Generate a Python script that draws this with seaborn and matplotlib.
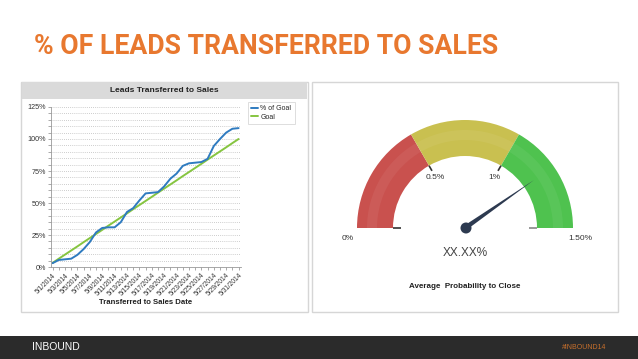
import numpy as np
import pandas as pd
import matplotlib
matplotlib.use("Agg")
import matplotlib.pyplot as plt
from matplotlib.patches import Rectangle, Wedge, Circle, Polygon
from matplotlib.ticker import MultipleLocator, FixedLocator
from matplotlib.lines import Line2D
import seaborn as sns

# ---------------- data ----------------
dates = [f"5/{d}/2014" for d in range(1, 32)]
pct_of_goal = [3, 5.5, 6, 6.5, 9.5, 14, 19.5, 27, 30.5, 31, 31, 35, 43, 46, 52,
               57.5, 58, 58.5, 63, 69, 73, 79, 81, 81.5, 82, 84.5, 94.5, 100,
               105, 108, 108.5]
goal = [3.2, 6.5, 9.7, 12.9, 16.1, 19.4, 22.6, 25.8, 29.0, 32.3, 35.5, 38.7,
        41.9, 45.2, 48.4, 51.6, 54.8, 58.1, 61.3, 64.5, 67.7, 71.0, 74.2, 77.4,
        80.6, 83.9, 87.1, 90.3, 93.5, 96.8, 100]
y_ticks = [0, 25, 50, 75, 100, 125]
y_tick_labels = ["0%", "25%", "50%", "75%", "100%", "125%"]
series_names = ["% of Goal", "Goal"]

gauge_bounds = [0, 0.5, 1.0, 1.5]
gauge_colors = ["#c9514e", "#c9c050", "#4fc24f"]
gauge_labels = ["0%", "0.5%", "1%", "1.50%"]
gauge_value = 1.21
gauge_text = "XX.XX%"
gauge_title = "Average  Probability to Close"

W, H = 638, 359
sns.set_theme(style="white")
plt.rcParams['font.family'] = ['Liberation Sans', 'DejaVu Sans']

fig = plt.figure(figsize=(W / 100, H / 100), dpi=100)
fig.patch.set_facecolor("white")

bg = fig.add_axes([0, 0, 1, 1], zorder=0)
bg.set_xlim(0, W)
bg.set_ylim(0, H)
bg.axis("off")

def Y(y):
    return H - y

# title
bg.text(34, Y(47), "% OF LEADS TRANSFERRED TO SALES", color="#e8782f",
        fontsize=19.2, fontweight="bold", va="center", ha="left",
        family=['Roboto', 'DejaVu Sans'])

# bottom bar
bg.add_patch(Rectangle((0, 0), W, Y(336), color="#2b2b2b", lw=0))
bg.text(32, Y(347.5), "INBOUND", color="white", fontsize=7.5, va="center", ha="left")
bg.text(606, Y(347.5), "#INBOUND14", color="#c8702c", fontsize=5, va="center", ha="right")

# panels
bg.add_patch(Rectangle((21, Y(312)), 287, 230, fill=False, ec="#d6d6d6", lw=1.0))
bg.add_patch(Rectangle((22, Y(99)), 285, 17, color="#dadada", lw=0))
bg.text(164, Y(90.5), "Leads Transferred to Sales", fontsize=6, fontweight="bold",
        color="#222222", ha="center", va="center")
bg.add_patch(Rectangle((312, Y(312)), 306, 230, fill=False, ec="#d6d6d6", lw=1.0))

# ---------------- line chart ----------------
df = pd.DataFrame({
    "day": np.arange(len(dates)).tolist() * 2,
    "value": pct_of_goal + goal,
    "series": [series_names[0]] * len(dates) + [series_names[1]] * len(dates),
})
ax = fig.add_axes([51 / W, (H - 267) / H, (241 - 51) / W, (267 - 107) / H], zorder=2)
ax.set_facecolor("none")
sns.lineplot(data=df, x="day", y="value", hue="series", hue_order=series_names[::-1],
             palette={"% of Goal": "#2f7bc0", "Goal": "#86c540"}, lw=1.4, ax=ax,
             legend=False)
ax.set_xlim(-0.26, len(dates) - 1 + 0.39)
ax.set_ylim(0, 125)
ax.yaxis.set_major_locator(FixedLocator(y_ticks))
ax.set_yticklabels(y_tick_labels, fontsize=5.2, color="#333333")
ax.yaxis.set_minor_locator(MultipleLocator(5))
ax.grid(True, which="both", axis="y", color="#bdbdbd", ls=(0, (1, 1.5)), lw=0.6)
ax.set_xticks(np.arange(len(dates)), minor=True)
ax.set_xticks(np.arange(0, len(dates), 2))
ax.set_xticklabels(dates[::2], rotation=45, ha="right", rotation_mode="anchor",
                   fontsize=4.8, color="#333333")
ax.tick_params(axis="both", which="both", direction="out", length=2, width=0.5,
               color="#888888", pad=1.5, bottom=True, left=True)
for s in ["top", "right"]:
    ax.spines[s].set_visible(False)
for s in ["left", "bottom"]:
    ax.spines[s].set_color("#999999")
    ax.spines[s].set_linewidth(0.6)
ax.set_xlabel("")
ax.set_ylabel("")
bg.text(146, Y(303), "Transferred to Sales Date", fontsize=5.6, fontweight="bold",
        color="#222222", ha="center", va="center")

handles = [Line2D([0], [0], color="#2f7bc0", lw=1.4),
           Line2D([0], [0], color="#86c540", lw=1.4)]
leg = ax.legend(handles, series_names, loc="upper left",
                bbox_to_anchor=(248 / W, 1 - 102 / H), bbox_transform=fig.transFigure,
                fontsize=5, frameon=True, fancybox=False, edgecolor="#cfcfcf",
                handlelength=1.0, handletextpad=0.3, borderpad=0.5, labelspacing=0.2,
                borderaxespad=0)
leg.get_frame().set_linewidth(0.6)

# ---------------- gauge ----------------
cx, cy = 465, Y(228)
R_out, R_in = 108, 72
vmax = gauge_bounds[-1]

def ang(v):
    return 180 - 180 * v / vmax

for lo, hi, col in zip(gauge_bounds[:-1], gauge_bounds[1:], gauge_colors):
    bg.add_patch(Wedge((cx, cy), R_out, ang(hi), ang(lo), width=R_out - R_in,
                       fc=col, ec="none"))
    bg.add_patch(Wedge((cx, cy), 98, ang(hi), ang(lo), width=10,
                       fc="white", ec="none", alpha=0.06))

for v in gauge_bounds:
    a = np.deg2rad(ang(v))
    col = "#333333" if v < vmax else "#888888"
    r0 = R_in - 6 if 0 < v < vmax else R_in - 8
    bg.plot([cx + r0 * np.cos(a), cx + R_in * np.cos(a)],
            [cy + r0 * np.sin(a), cy + R_in * np.sin(a)], color=col, lw=1.2,
            solid_capstyle="butt")

for v, lab in zip(gauge_bounds[1:-1], gauge_labels[1:-1]):
    a = np.deg2rad(ang(v))
    bg.text(cx + 59 * np.cos(a), cy + 59 * np.sin(a) - 1, lab, fontsize=6,
            color="#333333", ha="center", va="center")
bg.text(cx - R_out - 9, cy - 10, gauge_labels[0], fontsize=6, color="#333333",
        ha="center", va="center")
bg.text(cx + R_out + 7, cy - 10, gauge_labels[-1], fontsize=6, color="#333333",
        ha="center", va="center")

a = np.deg2rad(ang(gauge_value))
L = 84
tip = (cx + L * np.cos(a), cy + L * np.sin(a))
perp = (-np.sin(a), np.cos(a))
bw = 2.4
needle = Polygon([(cx + bw * perp[0], cy + bw * perp[1]), tip,
                  (cx - bw * perp[0], cy - bw * perp[1])], closed=True,
                 fc="#2d3a50", ec="none")
bg.add_patch(needle)
bg.add_patch(Circle((cx + 1, cy), 5.5, fc="#2d3a50", ec="none"))

bg.text(cx, Y(253), gauge_text, fontsize=8.5, color="#444444", ha="center",
        va="center")
bg.text(cx, Y(286), gauge_title, fontsize=5.8, fontweight="bold", color="#222222",
        ha="center", va="center")

fig.savefig("out.png", dpi=100)
